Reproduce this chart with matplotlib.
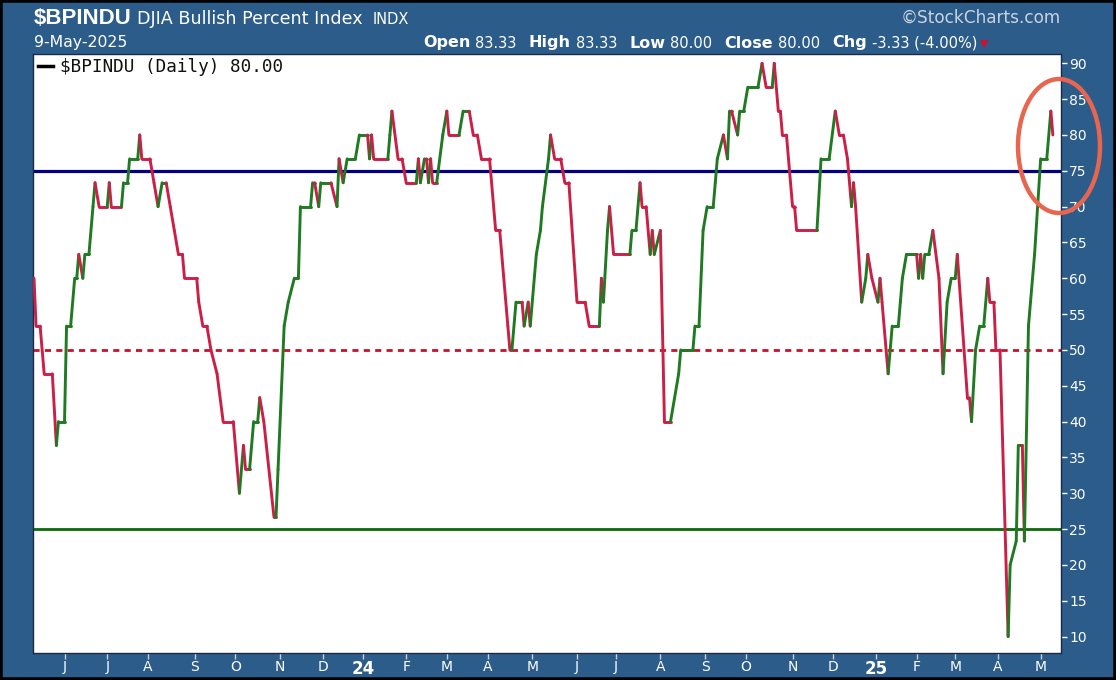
import matplotlib.pyplot as plt
import numpy as np
import pandas as pd
from matplotlib.collections import LineCollection
from matplotlib.lines import Line2D
from matplotlib.patches import Ellipse, Rectangle

# NYSE closures inside the chart window
holidays = ["2023-05-29", "2023-06-19", "2023-07-04", "2023-09-04", "2023-11-23",
            "2023-12-25", "2024-01-01", "2024-01-15", "2024-02-19", "2024-03-29",
            "2024-05-27", "2024-06-19", "2024-07-04", "2024-09-02", "2024-11-28",
            "2024-12-25", "2025-01-01", "2025-01-09", "2025-01-20", "2025-02-17",
            "2025-04-18"]
last_date = "2025-05-09"
n_sessions = 502

# turning points of $BPINDU: session number (0 = first bar shown) and percent
sessions = [0, 1, 3, 5, 9, 11, 12, 15, 16, 18, 20, 21, 22, 24, 25, 27, 29, 30, 32, 36,
            37, 38, 43, 44, 46, 47, 51, 52, 53, 57, 59, 61, 63, 65, 67, 69, 71, 73, 74, 80,
            81, 83, 85, 87, 90, 93, 98, 101, 103, 104, 106, 108, 110, 111, 113, 118, 119, 120, 123, 125,
            128, 130, 131, 136, 137, 138, 140, 141, 146, 149, 150, 152, 154, 158, 160, 164, 165, 166, 167, 174,
            175, 176, 179, 181, 183, 188, 189, 190, 192, 193, 194, 195, 196, 198, 201, 203, 204, 209, 211, 214,
            216, 218, 220, 224, 227, 229, 233, 234, 235, 237, 240, 241, 243, 244, 247, 249, 250, 253, 254, 256,
            259, 261, 263, 267, 271, 273, 278, 279, 280, 282, 283, 285, 293, 294, 296, 298, 299, 301, 303, 304,
            305, 308, 310, 313, 317, 318, 324, 325, 327, 329, 331, 334, 335, 336, 339, 341, 342, 343, 346, 347,
            349, 351, 356, 358, 360, 363, 364, 366, 367, 368, 370, 373, 374, 375, 385, 387, 391, 394, 396, 398,
            400, 402, 403, 404, 407, 409, 410, 412, 415, 416, 417, 420, 422, 425, 426, 427, 429, 434, 435, 436,
            437, 438, 440, 442, 445, 447, 449, 451, 453, 454, 459, 460, 461, 463, 465, 467, 469, 470, 472, 473,
            475, 479, 480, 483, 484, 486, 487, 489, 490, 492, 495, 498, 500, 501]
bullish_pct = [60, 53.33, 53.33, 46.67, 46.67, 36.67, 40, 40, 53.33, 53.33, 60, 60, 63.33, 60, 63.33, 63.33, 70, 73.33, 70, 70,
               73.33, 70, 70, 73.33, 73.33, 76.67, 76.67, 80, 76.67, 76.67, 73.33, 70, 73.33, 73.33, 70, 66.67, 63.33, 63.33, 60, 60,
               56.67, 53.33, 53.33, 50, 46.67, 40, 40, 30, 36.67, 33.33, 33.33, 40, 40, 43.33, 40, 26.67, 26.67, 33.33, 53.33, 56.67,
               60, 60, 70, 70, 73.33, 73.33, 70, 73.33, 73.33, 70, 76.67, 73.33, 76.67, 76.67, 80, 80, 76.67, 80, 76.67, 76.67,
               80, 83.33, 76.67, 76.67, 73.33, 73.33, 76.67, 73.33, 76.67, 76.67, 73.33, 76.67, 73.33, 73.33, 80, 83.33, 80, 80, 83.33, 83.33,
               80, 80, 76.67, 76.67, 66.67, 66.67, 53.33, 50, 50, 56.67, 56.67, 53.33, 56.67, 53.33, 63.33, 66.67, 70, 76.67, 80, 76.67,
               76.67, 73.33, 73.33, 56.67, 56.67, 53.33, 53.33, 60, 56.67, 66.67, 70, 63.33, 63.33, 66.67, 66.67, 73.33, 70, 70, 63.33, 66.67,
               63.33, 66.67, 40, 40, 46.67, 50, 50, 53.33, 53.33, 66.67, 70, 70, 73.33, 76.67, 80, 76.67, 83.33, 83.33, 80, 83.33,
               83.33, 86.67, 86.67, 90, 86.67, 86.67, 90, 83.33, 83.33, 80, 80, 70, 70, 66.67, 66.67, 76.67, 76.67, 83.33, 80, 80,
               76.67, 70, 73.33, 70, 56.67, 60, 63.33, 60, 56.67, 60, 56.67, 46.67, 53.33, 53.33, 56.67, 60, 63.33, 63.33, 60, 63.33,
               60, 63.33, 63.33, 66.67, 60, 46.67, 56.67, 60, 60, 63.33, 43.33, 43.33, 40, 50, 53.33, 53.33, 60, 56.67, 56.67, 50,
               50, 10, 20, 23.33, 36.67, 36.67, 23.33, 53.33, 56.67, 63.33, 76.67, 76.67, 83.33, 80]

levels = [75, 50, 25]
level_colors = ["#000080", "#C8102E", "#0B6A0B"]
level_styles = ["-", (0, (2.2, 1.9)), "-"]

# header quote line: (label, value)
quote = [("Open", "83.33"), ("High", "83.33"), ("Low", "80.00"), ("Close", "80.00"),
         ("Chg", "-3.33 (-4.00%)")]

bg = "#2C5C89"
up_color = "#1F7A22"
down_color = "#CC1F48"

# trading calendar for the x axis
days = pd.bdate_range("2023-01-01", last_date)
days = days[~days.isin(pd.to_datetime(holidays))][-n_sessions:]
new_month = np.flatnonzero(np.r_[False, days.month[1:] != days.month[:-1]])
tick_labels = [str(days[i].year % 100) if days[i].month == 1 else "JFMAMJJASOND"[days[i].month - 1]
               for i in new_month]

W, H = 1116, 680


def px(x, y):
    return x / W, 1 - y / H


fig = plt.figure(figsize=(W / 100, H / 100), dpi=100, facecolor=bg)
ax = fig.add_axes([33 / W, 1 - 653 / H, (1061 - 33) / W, (653 - 54) / H])
ax.set_facecolor("white")

for lvl, c, ls in zip(levels, level_colors, level_styles):
    ax.axhline(lvl, color=c, lw=2.0 if lvl != 75 else 2.3, linestyle=ls, zorder=2)

x = np.array(sessions, dtype=float)
y = np.array(bullish_pct, dtype=float)
segs = np.stack([np.column_stack([x[:-1], y[:-1]]), np.column_stack([x[1:], y[1:]])], axis=1)
colors = []
c = down_color
for d in np.diff(y):
    if d > 0:
        c = up_color
    elif d < 0:
        c = down_color
    colors.append(c)
lc = LineCollection(segs, colors=colors, linewidths=2.1, capstyle="round", joinstyle="round", zorder=3)
ax.add_collection(lc)

ax.set_xlim(-0.5, n_sessions - 1 + 4)
ax.set_ylim(7.7, 91.3)

ax.yaxis.tick_right()
ax.set_yticks(np.arange(10, 91, 5))
ax.tick_params(axis="y", colors="white", labelsize=10, length=4, width=1, pad=2)
ax.set_xticks(new_month)
ax.set_xticklabels(tick_labels)
ax.tick_params(axis="x", colors="#C8CDD6", labelcolor="white", labelsize=10, length=4, width=1, pad=1)
for lab in ax.get_xticklabels():
    if lab.get_text().isdigit():
        lab.set_fontweight("bold")
        lab.set_fontsize(12)
for s in ax.spines.values():
    s.set_color("#1B2B44")
    s.set_linewidth(1)

# legend line inside the plot
fig.add_artist(Line2D([px(38, 0)[0], px(53, 0)[0]], [px(0, 66)[1]] * 2, color="black", lw=2.5))
fig.text(*px(60, 67), "$BPINDU (Daily) 80.00", family="DejaVu Sans Mono", fontsize=12.7,
         color="#111111", va="center", ha="left")

# header
fig.text(*px(34, 19), "$BPINDU", color="white", fontsize=16, fontweight="bold",
         family="Liberation Sans", va="center")
fig.text(*px(137, 19), "DJIA Bullish Percent Index", color="white", fontsize=12.6,
         family="DejaVu Sans", va="center")
fig.text(*px(373, 20), "INDX", color="white", fontsize=10.5, family="DejaVu Sans", va="center")
fig.text(*px(34, 43), "9-May-2025", color="white", fontsize=11.3, family="DejaVu Sans", va="center")
fig.text(*px(1061, 18), "\u00a9StockCharts.com", color="#C9D3E0", fontsize=12.2,
         family="DejaVu Sans", ha="right", va="center")

# quote line laid out left to right from measured text widths
renderer = fig.canvas.get_renderer()
xp = 423
for label, value in quote:
    t = fig.text(*px(xp, 43), label, color="white", fontsize=11.5, fontweight="bold",
                 family="DejaVu Sans", va="center")
    xp = t.get_window_extent(renderer).x1 + 5
    t = fig.text(*px(xp, 43), value, color="white", fontsize=10.5,
                 family="DejaVu Sans", va="center")
    xp = t.get_window_extent(renderer).x1 + 12
fig.text(*px(xp - 5, 44), "\u25bc", color="#D0102E", fontsize=8, ha="center", va="center")

# red highlight ellipse
ell = Ellipse(px(1059, 146), 82 / W, 134 / H, transform=fig.transFigure, fill=False,
              edgecolor="#E8654F", lw=3.2)
fig.add_artist(ell)

# outer black frame
fig.add_artist(Rectangle((0, 0), 1, 1, transform=fig.transFigure, fill=False,
                         edgecolor="black", lw=4))

fig.savefig("out.png", dpi=100, facecolor=bg)
